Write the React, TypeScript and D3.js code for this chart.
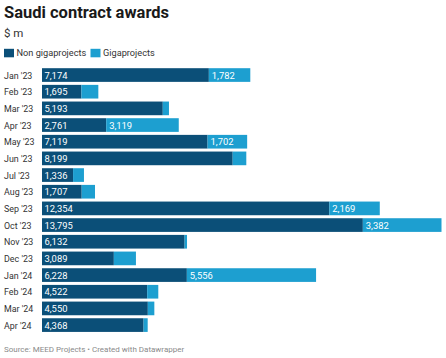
import { useEffect, useRef } from "react";
import * as d3 from "d3";

// chart data
const months = [
  "Jan '23", "Feb '23", "Mar '23", "Apr '23", "May '23", "Jun '23", "Jul '23", "Aug '23",
  "Sep '23", "Oct '23", "Nov '23", "Dec '23", "Jan '24", "Feb '24", "Mar '24", "Apr '24",
];
const nonGiga = [7174, 1695, 5193, 2761, 7119, 8199, 1336, 1707, 12354, 13795, 6132, 3089, 6228, 4522, 4550, 4368];
const giga = [1782, 727, 266, 3119, 1702, 585, 468, 572, 2169, 3382, 103, 950, 5556, 478, 280, 176];
const seriesNames = ["Non gigaprojects", "Gigaprojects"];

const W = 446;
const H = 358;
const DARK = "#0b4f78";
const LIGHT = "#1d9fd0";
const FONT = "Roboto, 'Noto Sans', sans-serif";

export default function App(): JSX.Element {
  const svgRef = useRef<SVGSVGElement>(null);

  useEffect(() => {
    const svg = d3.select(svgRef.current);
    svg.selectAll("*").remove();

    const left = 42;
    const right = 441.5;
    const top = 66.7;
    const step = 16.67;

    const totals = nonGiga.map((v, i) => v + giga[i]);
    const x = d3.scaleLinear().domain([0, d3.max(totals) as number]).range([left, right]);
    const y = d3.scaleBand<string>()
      .domain(months)
      .range([top, top + step * months.length])
      .paddingInner(0.18)
      .paddingOuter(0.09);

    // header
    svg.append("text").attr("x", 4).attr("y", 17.5)
      .attr("font-family", FONT).attr("font-weight", 700).attr("font-size", 16.5)
      .attr("fill", "#1a1a1a").text("Saudi contract awards");
    svg.append("text").attr("x", 4).attr("y", 36.5)
      .attr("font-family", FONT).attr("font-size", 11.5)
      .attr("fill", "#333").text("$ m");

    // legend
    const legendX = [4, 90.5];
    seriesNames.forEach((name, i) => {
      svg.append("rect").attr("x", legendX[i]).attr("y", 48.8)
        .attr("width", 10).attr("height", 8.5).attr("fill", i === 0 ? DARK : LIGHT);
      svg.append("text").attr("x", legendX[i] + 12.5).attr("y", 56.3)
        .attr("font-family", FONT).attr("font-size", 9.2)
        .attr("fill", "#333").text(name);
    });

    // rows
    const rows = svg.append("g");
    months.forEach((m, i) => {
      const y0 = y(m) as number;
      const bh = y.bandwidth();
      rows.append("text").attr("x", 4).attr("y", y0 + bh / 2 + 3.5)
        .attr("font-family", FONT).attr("font-size", 8.9)
        .attr("fill", "#333").text(m);

      rows.append("rect").attr("x", x(0)).attr("y", y0)
        .attr("width", x(nonGiga[i]) - x(0)).attr("height", bh).attr("fill", DARK);
      rows.append("rect").attr("x", x(nonGiga[i])).attr("y", y0)
        .attr("width", x(totals[i]) - x(nonGiga[i])).attr("height", bh).attr("fill", LIGHT);

      rows.append("text").attr("x", x(0) + 2.5).attr("y", y0 + bh / 2 + 3.5)
        .attr("font-family", FONT).attr("font-size", 9.4)
        .attr("fill", "#fff").text(d3.format(",")(nonGiga[i]));
      if (x(totals[i]) - x(nonGiga[i]) > 35) {
        rows.append("text").attr("x", x(nonGiga[i]) + 3).attr("y", y0 + bh / 2 + 3.5)
          .attr("font-family", FONT).attr("font-size", 9.4)
          .attr("fill", "#fff").text(d3.format(",")(giga[i]));
      }
    });

    // footer
    svg.append("text").attr("x", 4).attr("y", 351.5)
      .attr("font-family", FONT).attr("font-size", 8)
      .attr("fill", "#8a8a8a").text("Source: MEED Projects • Created with Datawrapper");
  }, []);

  return (
    <svg ref={svgRef} width={W} height={H}
      style={{ position: "absolute", left: 0, top: 0, background: "#fff" }} />
  );
}
